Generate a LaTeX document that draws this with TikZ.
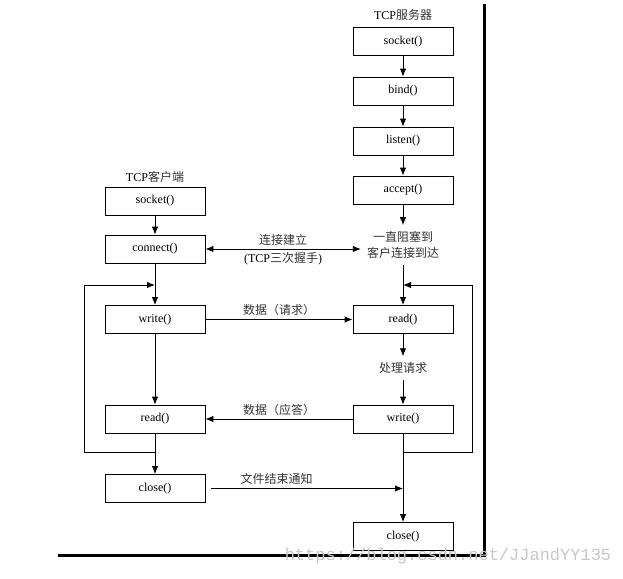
\documentclass[tikz,border=0pt]{standalone}
\usepackage{fontspec}
\setmainfont{Liberation Serif}
\newfontfamily\cjk{Noto Sans CJK SC}
\newfontfamily\wmfont{Liberation Mono}
\usetikzlibrary{arrows.meta}
\newcommand\zh[1]{{\cjk\color{black!80}#1}}
\begin{document}
\begin{tikzpicture}[x=1pt, y=-1pt, font=\fontsize{12}{16}\selectfont,
  fn/.style={draw, line width=0.9pt, minimum width=100pt, minimum height=28pt, inner sep=0pt},
  note/.style={align=center, inner sep=6pt},
  flow/.style={line width=0.9pt, -{Latex[length=8pt,width=6.5pt]}},
  both/.style={line width=0.9pt, {Latex[length=8pt,width=6.5pt]}-{Latex[length=8pt,width=6.5pt]}},
  wire/.style={line width=0.9pt}]
\useasboundingbox (0,0) rectangle (623,578);
\node (stitle) at (403,15) {TCP\zh{服务器}};
\node[fn] (ssock) at (403,41.5) {socket()};
\node[fn] (sbind) at (403,91) {bind()};
\node[fn] (slisten) at (403,141) {listen()};
\node[fn] (saccept) at (403,190) {accept()};
\node[note] (sblock) at (403,245) {\zh{一直阻塞到}\\\zh{客户连接到达}};
\node[fn] (sread) at (403,319.5) {read()};
\node[note] (sproc) at (403,368) {\zh{处理请求}};
\node[fn] (swrite) at (403,419) {write()};
\node[fn] (sclose) at (403,536.5) {close()};
\node (ctitle) at (155,177) {TCP\zh{客户端}};
\node[fn] (csock) at (155,201) {socket()};
\node[fn] (cconn) at (155,249) {connect()};
\node[fn] (cwrite) at (155,319.5) {write()};
\node[fn] (cread) at (155,419) {read()};
\node[fn] (cclose) at (155,488.5) {close()};
\coordinate (sret) at (403,285);
\coordinate (sloop) at (403,452);
\coordinate (cret) at (155,285);
\coordinate (cloop) at (155,452);
\path [flow] (ssock) edge (sbind);
\path [flow] (sbind) edge (slisten);
\path [flow] (slisten) edge (saccept);
\path [flow] (saccept) edge (sblock);
\path [flow] (sblock) edge (sread);
\path [flow] (sread) edge (sproc);
\path [flow] (sproc) edge (swrite);
\path [flow] (swrite) edge (sclose);
\path [flow] (csock) edge (cconn);
\path [flow] (cconn) edge (cwrite);
\path [flow] (cwrite) edge (cread);
\path [flow] (cread) edge (cclose);
\draw [flow] (sloop) -- ++(69,0) |- (sret);
\draw [flow] (cloop) -- ++(-71,0) |- (cret);
\draw [both] (cconn.east) -- (cconn.east -| sblock.west)
  node[midway, above] (lconn) {\zh{连接建立}}
  node[midway, below] (lshake) {(TCP\zh{三次握手})};
\draw [flow] (cwrite.east) -- (sread.west) node[midway, above] (lreq) {\zh{数据（请求）}};
\draw [flow] (swrite.west) -- (cread.east) node[midway, above] (lans) {\zh{数据（应答）}};
\draw [flow, shorten <=6pt] (cclose.east) -- (cclose.east -| sclose.north)
  node[pos=0.36, above] (leof) {\zh{文件结束通知}};
\draw [line width=3pt] (484,4) -- (484,555) -- (58,555);
\node[text=black!22, font=\wmfont\fontsize{17}{17}\selectfont] (wm) at (448,556) {https://blog.csdn.net/JJandYY135};
\end{tikzpicture}
\end{document}
